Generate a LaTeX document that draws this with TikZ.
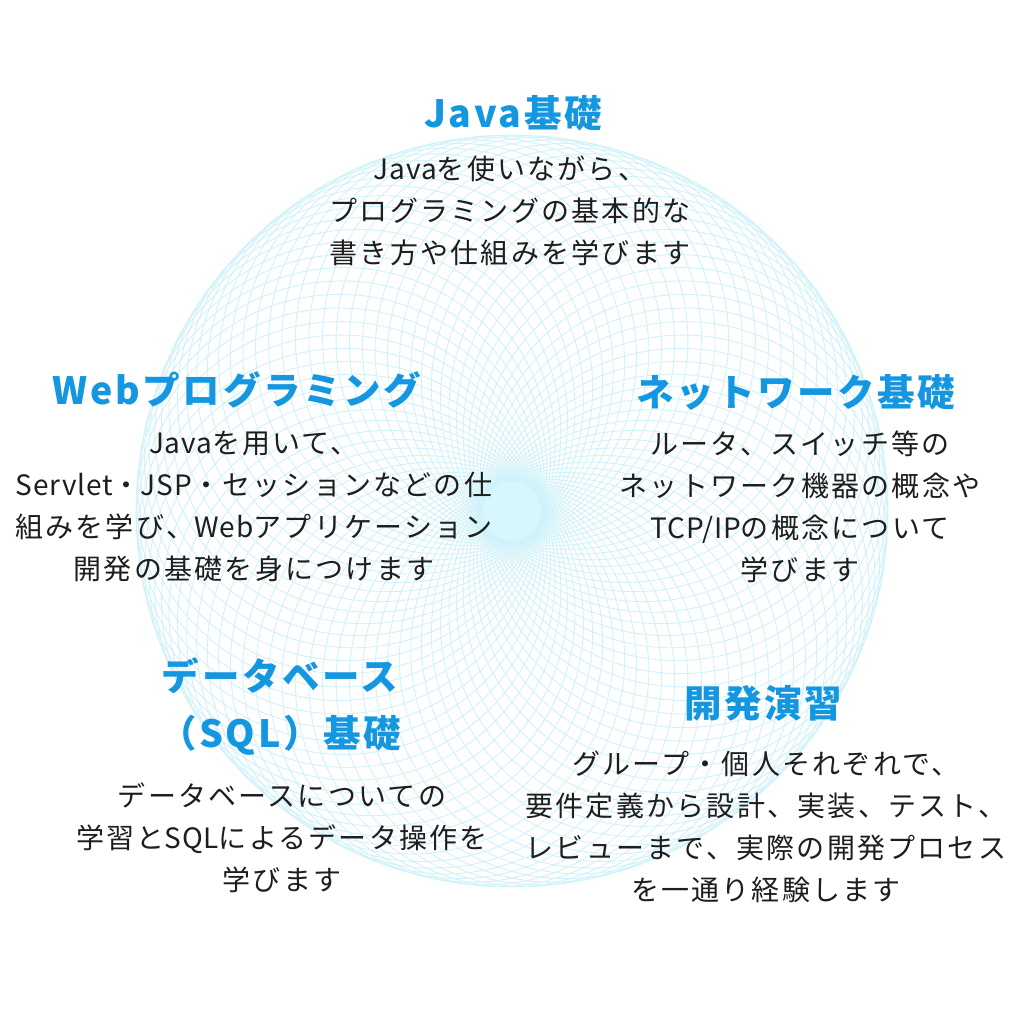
\documentclass[tikz,border=0pt]{standalone}
\usepackage{fontspec}
\newfontfamily\jp[LetterSpace=8]{Noto Sans CJK JP}
\newfontfamily\jpl[LetterSpace=3]{Noto Sans CJK JP}
\newfontfamily\jpt[LetterSpace=7]{Noto Sans CJK JP}
\newcommand\lat[1]{{\jpl #1}}
\definecolor{ttlblue}{HTML}{1497E0}
\definecolor{bodyink}{HTML}{1E1E1E}
\definecolor{meshcol}{HTML}{D0F2FB}
\definecolor{corecol}{HTML}{D8F6FD}
\tikzset{
  ttl/.style={inner sep=0pt, align=center, text=ttlblue, font={\jpt\bfseries\fontsize{37.5}{57}\selectfont}},
  bdy/.style={inner sep=0pt, align=center, text=bodyink, font={\jp\fontsize{28}{42}\selectfont}},
  meshline/.style={draw=meshcol, line width=0.9pt},
}
\begin{document}
\begin{tikzpicture}[x=1pt,y=-1pt]
\useasboundingbox (0,0) rectangle (1024,1024);
\fill[white] (0,0) rectangle (1024,1024);
\fill[corecol] (512,511) circle[radius=34];
\foreach \i in {0,...,79}{
  \draw[meshline] ({512+173*cos(4.5*\i)},{511+173*sin(4.5*\i)}) circle[radius=203];
}
\node[ttl] (t1) at (513,113) {Java基礎};
\node[bdy] (b1) at (510,211) {\lat{Java}を使いながら、\\プログラミングの基本的な\\書き方や仕組みを学びます};
\node[ttl] (t2) at (237,390) {Webプログラミング};
\node[bdy] (b2) at (254,507) {\lat{Java}を用いて、\\\lat{Servlet}・\lat{JSP}・セッションなどの仕\\組みを学び、\lat{Web}アプリケーション\\開発の基礎を身につけます};
\node[ttl] (t3) at (796,392) {ネットワーク基礎};
\node[bdy] (b3) at (800,507) {ルータ、スイッチ等の\\ネットワーク機器の概念や\\\lat{TCP/IP}の概念について\\学びます};
\node[ttl] (t4) at (280,706) {データベース\\（SQL）基礎};
\node[bdy] (b4) at (282,838) {データベースについての\\学習と\lat{SQL}によるデータ操作を\\学びます};
\node[ttl] (t5) at (763,703) {開発演習};
\node[bdy] (b5) at (766,827) {グループ・個人それぞれで、\\要件定義から設計、実装、テスト、\\レビューまで、実際の開発プロセス\\を一通り経験します};
\end{tikzpicture}
\end{document}
